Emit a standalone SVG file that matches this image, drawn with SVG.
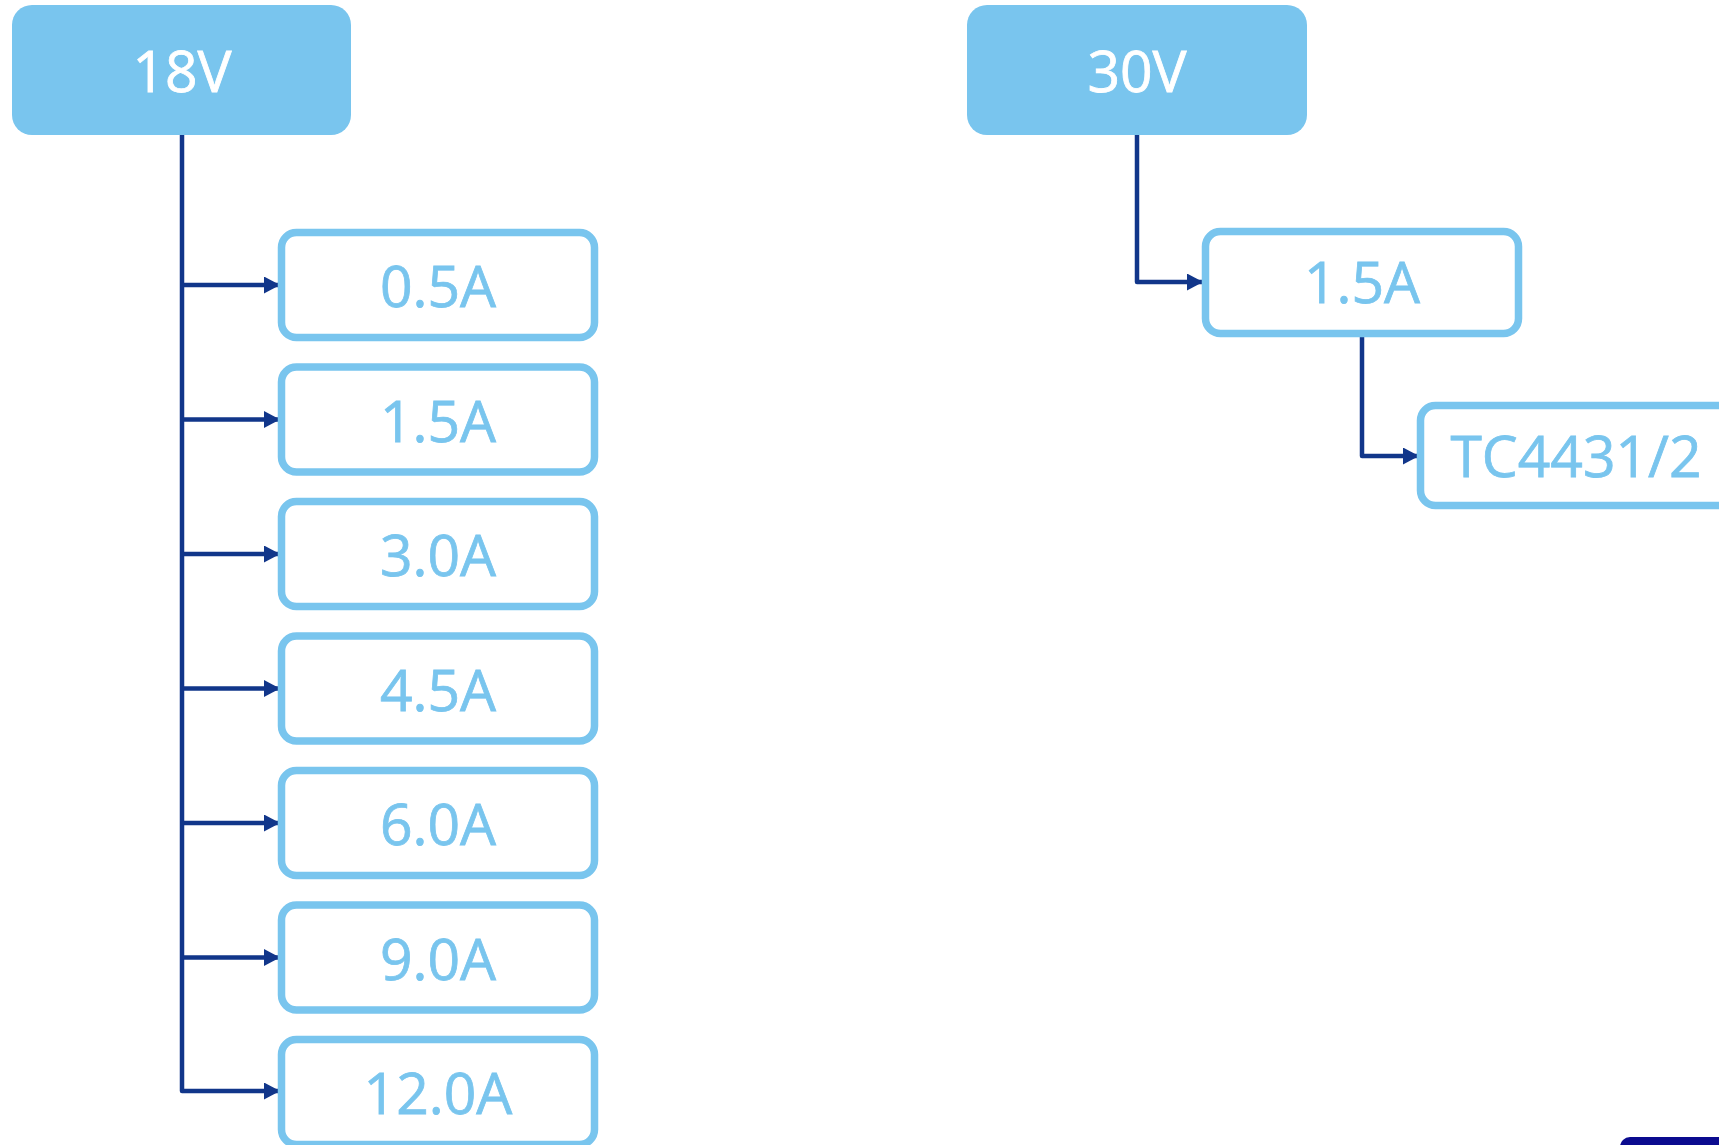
<svg xmlns="http://www.w3.org/2000/svg" width="1719" height="1145" viewBox="0 0 1719 1145">
<defs>
<style>
.hdr{fill:#79C5EE}
.hdrt{fill:#ffffff;stroke:#ffffff;stroke-width:0.8;font-family:"Open Sans","Noto Sans","Liberation Sans",sans-serif;font-size:57px;text-anchor:middle}
.box{fill:#ffffff;stroke:#79C5EE;stroke-width:7.5}
.boxt{fill:#79C5EE;stroke:#79C5EE;stroke-width:0.8;font-family:"Open Sans","Noto Sans","Liberation Sans",sans-serif;font-size:57px;text-anchor:middle}
.conn{fill:none;stroke:#11368A;stroke-width:4.5;stroke-linejoin:round;marker-end:url(#arr)}
</style>
<marker id="arr" markerUnits="userSpaceOnUse" markerWidth="17" markerHeight="18" refX="16" refY="8.5" orient="auto">
<path d="M0,0 L16,8.5 L0,17 Z" fill="#11368A"/>
</marker>
</defs>
<rect width="1719" height="1145" fill="#ffffff"/>
<g id="connectors">
<path class="conn" d="M182,135 V1091 H280"/>
<path class="conn" d="M182,285 H280"/>
<path class="conn" d="M182,419.5 H280"/>
<path class="conn" d="M182,554 H280"/>
<path class="conn" d="M182,688.5 H280"/>
<path class="conn" d="M182,823 H280"/>
<path class="conn" d="M182,957.5 H280"/>
<path class="conn" d="M1137,135 V282 H1203"/>
<path class="conn" d="M1362,337 V456 H1419"/>
</g>
<g id="n18V"><rect class="hdr" x="12" y="5" width="339" height="130" rx="20"/><text class="hdrt" x="182" y="92">18V</text></g>
<g id="n30V"><rect class="hdr" x="967" y="5" width="340" height="130" rx="20"/><text class="hdrt" x="1137" y="92">30V</text></g>
<g id="a05"><rect class="box" x="281.5" y="232.5" width="313" height="105" rx="15"/><text class="boxt" x="438" y="307">0.5A</text></g>
<g id="a15"><rect class="box" x="281.5" y="367" width="313" height="105" rx="15"/><text class="boxt" x="438" y="441.5">1.5A</text></g>
<g id="a30"><rect class="box" x="281.5" y="501.5" width="313" height="105" rx="15"/><text class="boxt" x="438" y="576">3.0A</text></g>
<g id="a45"><rect class="box" x="281.5" y="636" width="313" height="105" rx="15"/><text class="boxt" x="438" y="710.5">4.5A</text></g>
<g id="a60"><rect class="box" x="281.5" y="770.5" width="313" height="105" rx="15"/><text class="boxt" x="438" y="845">6.0A</text></g>
<g id="a90"><rect class="box" x="281.5" y="905" width="313" height="105" rx="15"/><text class="boxt" x="438" y="979.5">9.0A</text></g>
<g id="a120"><rect class="box" x="281.5" y="1039.5" width="313" height="105" rx="15"/><text class="boxt" x="438" y="1114">12.0A</text></g>
<g id="b15"><rect class="box" x="1205.5" y="231.5" width="313" height="102" rx="15"/><text class="boxt" x="1362" y="303">1.5A</text></g>
<g id="tc"><rect class="box" x="1420.5" y="405.5" width="313" height="100" rx="15"/><text class="boxt" x="1576" y="477">TC4431/2</text></g>
<g id="partial"><rect x="1620" y="1137" width="200" height="50" rx="10" fill="#0B0B8F"/></g>
</svg>
